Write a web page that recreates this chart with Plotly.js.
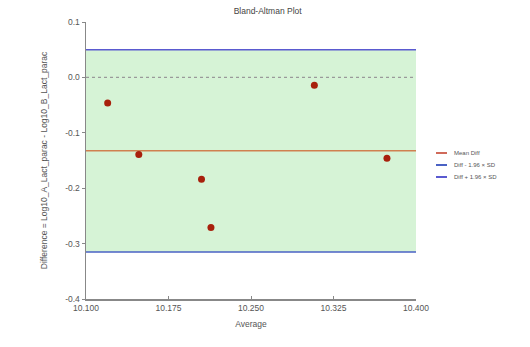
<!DOCTYPE html>
<html><head><meta charset="utf-8">
<script src="https://cdn.plot.ly/plotly-3.0.1.min.js"></script>
<style>html,body{margin:0;padding:0;background:#fff}</style>
</head><body><div id="chart" style="width:530px;height:347px"></div>
<script>
const averages = [10.1197, 10.148, 10.205, 10.2136, 10.3076, 10.3736];
const differences = [-0.046, -0.139, -0.184, -0.271, -0.014, -0.146];
const meanDiff = -0.1326;
const lowerLimit = -0.315;
const upperLimit = 0.050;
const xRange = [10.1, 10.4];
const yRange = [-0.4, 0.1];
const xTicks = [10.100, 10.175, 10.250, 10.325, 10.400];
const xTickLabels = ['10.100', '10.175', '10.250', '10.325', '10.400'];
const yTicks = [0.1, 0.0, -0.1, -0.2, -0.3, -0.4];
const yTickLabels = ['0.1', '0.0', '-0.1', '-0.2', '-0.3', '-0.4'];
const legendNames = ['Mean Diff', 'Diff - 1.96 × SD', 'Diff + 1.96 × SD'];
const legendColors = ['#d06a5a', '#4a62c4', '#5a5ad0'];

const traces = [
  {x: xRange, y: [lowerLimit, lowerLimit], mode: 'lines', line: {color: 'rgba(0,0,0,0)', width: 0}, showlegend: false, hoverinfo: 'skip'},
  {x: xRange, y: [upperLimit, upperLimit], mode: 'lines', fill: 'tonexty', fillcolor: '#d6f3d6', line: {color: 'rgba(0,0,0,0)', width: 0}, showlegend: false, hoverinfo: 'skip'},
  {x: xRange, y: [0, 0], mode: 'lines', line: {color: '#9a9a9a', width: 1.2, dash: 'dot'}, showlegend: false},
  {x: xRange, y: [meanDiff, meanDiff], mode: 'lines', name: legendNames[0], line: {color: '#d08050', width: 1.5}, showlegend: false},
  {x: xRange, y: [lowerLimit, lowerLimit], mode: 'lines', name: legendNames[1], line: {color: '#4a62c4', width: 1.5}, showlegend: false},
  {x: xRange, y: [upperLimit, upperLimit], mode: 'lines', name: legendNames[2], line: {color: '#5a5ad0', width: 1.5}, showlegend: false},
  {x: averages, y: differences, mode: 'markers', marker: {color: '#a8200c', size: 7}, showlegend: false}
];

// custom compact legend (paper coordinates relative to the plot area)
const M = {l: 86, r: 114, t: 22, b: 48};
const W = 530, H = 347;
const pw = W - M.l - M.r, ph = H - M.t - M.b;
const px = v => (v - M.l) / pw;
const py = v => 1 - (v - M.t) / ph;
const shapes = [], annotations = [];
legendNames.forEach((name, i) => {
  const yy = 153 + i * 12;
  shapes.push({type: 'line', xref: 'paper', yref: 'paper', x0: px(436), x1: px(447), y0: py(yy), y1: py(yy), line: {color: legendColors[i], width: 2}});
  annotations.push({xref: 'paper', yref: 'paper', x: px(452), y: py(yy), xanchor: 'left', yanchor: 'middle', text: name, showarrow: false, font: {size: 6, color: '#555'}});
});

const layout = {
  width: W, height: H,
  margin: M,
  paper_bgcolor: '#fff', plot_bgcolor: '#fff',
  font: {family: 'Liberation Sans, Arial, sans-serif', color: '#555', size: 8},
  title: {text: 'Bland-Altman Plot', x: 0.505, xanchor: 'center', y: 0.968, yanchor: 'middle', font: {size: 8.5, color: '#444'}},
  xaxis: {
    range: xRange, tickvals: xTicks, ticktext: xTickLabels, showgrid: false, zeroline: false,
    showline: true, linecolor: '#888', linewidth: 1.5, ticks: 'inside', ticklen: 3, tickcolor: '#888',
    tickfont: {size: 8.5, color: '#555'},
    title: {text: 'Average', font: {size: 8.5, color: '#555'}, standoff: 9}
  },
  yaxis: {
    range: yRange, tickvals: yTicks, ticktext: yTickLabels, showgrid: false, zeroline: false,
    showline: true, linecolor: '#888', linewidth: 1.5, ticks: 'outside', ticklen: 3, tickcolor: '#888',
    tickfont: {size: 8.5, color: '#555'},
    title: {text: 'Difference = Log10_A_Lact_parac - Log10_B_Lact_parac', font: {size: 8.5, color: '#555'}, standoff: 16}
  },
  shapes: shapes,
  annotations: annotations,
  showlegend: false
};
Plotly.newPlot('chart', traces, layout, {displayModeBar: false, staticPlot: true});
</script></body></html>
